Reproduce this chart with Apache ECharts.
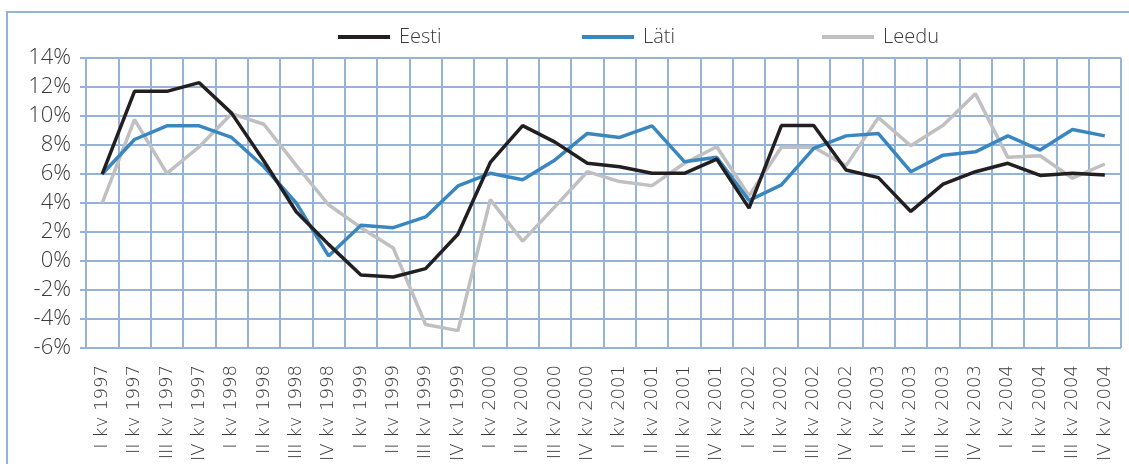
<!DOCTYPE html>
<html>
<head>
<meta charset="utf-8">
<script src="https://cdn.jsdelivr.net/npm/echarts@6/dist/echarts.min.js"></script>
<style>
  html, body { margin: 0; padding: 0; background: #fff; }
  #chart { width: 1129px; height: 464px; }
</style>
</head>
<body>
<div id="chart"></div>
<script>
const quarters = ['I', 'II', 'III', 'IV'];
const years = [1997, 1998, 1999, 2000, 2001, 2002, 2003, 2004];
const categories = [];
years.forEach(y => quarters.forEach(q => categories.push(q + ' kv ' + y)));

const eesti = [6.0, 11.7, 11.7, 12.3, 10.2, 6.9, 3.4, 1.15, -0.96, -1.1, -0.52, 1.85,
  6.8, 9.34, 8.2, 6.74, 6.5, 6.05, 6.05, 7.03, 3.65, 9.34, 9.34, 6.28,
  5.75, 3.42, 5.3, 6.16, 6.74, 5.9, 6.05, 5.94];
const lati = [6.0, 8.38, 9.32, 9.32, 8.52, 6.5, 4.0, 0.35, 2.47, 2.3, 3.04, 5.18,
  6.05, 5.6, 6.97, 8.8, 8.52, 9.32, 6.85, 7.15, 4.18, 5.25, 7.77, 8.63,
  8.79, 6.16, 7.3, 7.53, 8.63, 7.65, 9.07, 8.63];
const leedu = [4.0, 9.75, 6.05, 7.88, 10.16, 9.43, 6.6, 3.88, 2.3, 0.9, -4.38, -4.8,
  4.23, 1.37, 3.75, 6.16, 5.48, 5.2, 6.74, 7.88, 4.5, 7.84, 7.84, 6.58,
  9.89, 7.95, 9.36, 11.53, 7.15, 7.26, 5.71, 6.69];

const yMin = -6, yMax = 14, yStep = 2;

const gridColor = '#95b3d7';
const textColor = '#3a3a3a';
const thinFont = '"DejaVu Sans ExtraLight", "DejaVu Sans", sans-serif';
const font = '"Open Sans", "DejaVu Sans", sans-serif';

const chart = echarts.init(document.getElementById('chart'));

function legendAt(name, left) {
  return {
    data: [name],
    left: left,
    top: 22,
    itemWidth: 52,
    itemHeight: 20,
    itemGap: 0,
    icon: 'path://M0,8 L52,8 L52,12 L0,12 Z',
    textStyle: { fontSize: 20, color: textColor, fontFamily: font, fontWeight: 300, padding: [0, 0, 0, 4] }
  };
}

const option = {
  animation: false,
  backgroundColor: '#fff',
  graphic: [{
    type: 'rect',
    shape: { x: 7, y: 12, width: 1200, height: 600 },
    style: { fill: 'none', stroke: gridColor, lineWidth: 2 }
  }],
  legend: [
    legendAt('Eesti', 333),
    legendAt('Läti', 577),
    legendAt('Leedu', 817)
  ],
  grid: { left: 86, right: 8, top: 58, bottom: 114, containLabel: false },
  xAxis: {
    type: 'category',
    data: categories,
    boundaryGap: true,
    axisLine: { show: true, lineStyle: { color: gridColor, width: 2 } },
    axisTick: { show: false },
    splitLine: { show: true, interval: 0, lineStyle: { color: gridColor, width: 2 } },
    axisLabel: {
      interval: 0,
      rotate: 90,
      margin: 17,
      fontSize: 18,
      color: textColor,
      fontFamily: thinFont,
      fontWeight: 200
    }
  },
  yAxis: {
    type: 'value',
    min: yMin,
    max: yMax,
    interval: yStep,
    axisLine: { show: true, lineStyle: { color: gridColor, width: 2 } },
    axisTick: { show: true, length: 6, lineStyle: { color: gridColor, width: 2 } },
    splitLine: { show: true, lineStyle: { color: gridColor, width: 2 } },
    axisLabel: {
      formatter: '{value}%',
      margin: 15,
      fontSize: 22,
      color: textColor,
      fontFamily: font,
      fontWeight: 300
    }
  },
  series: [
    {
      name: 'Eesti', type: 'line', data: eesti, symbol: 'none', z: 4,
      lineStyle: { color: '#231f20', width: 3.5 }, itemStyle: { color: '#231f20' }
    },
    {
      name: 'Läti', type: 'line', data: lati, symbol: 'none', z: 3,
      lineStyle: { color: '#3a87c0', width: 3.5 }, itemStyle: { color: '#3a87c0' }
    },
    {
      name: 'Leedu', type: 'line', data: leedu, symbol: 'none', z: 2,
      lineStyle: { color: '#c0c0c2', width: 3.5 }, itemStyle: { color: '#c0c0c2' }
    }
  ]
};

chart.setOption(option);
</script>
</body>
</html>
